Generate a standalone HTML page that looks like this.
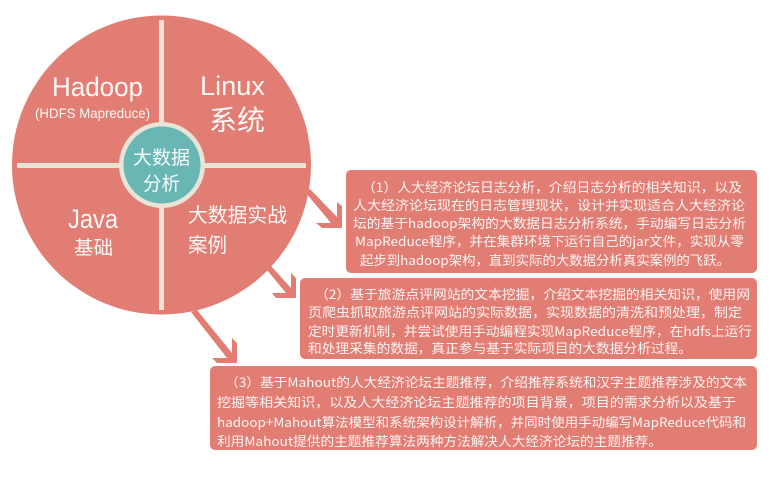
<!DOCTYPE html>
<html><head><meta charset="utf-8">
<style>
html,body{margin:0;padding:0;background:#fff;width:770px;height:500px;overflow:hidden}
svg{display:block}
text{fill:#fff;font-family:"Liberation Sans","Noto Sans CJK SC",sans-serif;opacity:.95}
.cjk{font-family:"WenQuanYi Zen Hei","Noto Sans CJK SC",sans-serif}
.t{font-size:13px;fill:#fff;opacity:.92;font-family:"WenQuanYi Zen Hei","Noto Sans CJK SC",sans-serif}
</style></head>
<body>
<svg width="770" height="500" viewBox="0 0 770 500" xmlns="http://www.w3.org/2000/svg">
<rect width="770" height="500" fill="#fff"/>
<g fill="#e27d73">
<polygon points="310,189 337,217 337,202 342,206 342,228 322,228 316,223 331,223 306,193"/>
<polygon points="271,266 291,288 291,273 296,278 296,298 276,298 272,293 286,293 267,270"/>
<polygon points="197,310 232,353 232,338 237,343 237,363 217,363 212,358 227,358 191,312"/>
<circle cx="161.500" cy="165" r="149.500"/>
<rect x="346" y="170" width="411" height="103" rx="5"/>
<rect x="300" y="278" width="457" height="81" rx="5"/>
<rect x="210" y="366" width="547" height="84" rx="5"/>
</g>
<g fill="#e8e4d6">
<rect x="159" y="20" width="5" height="290"/>
<rect x="17" y="163" width="289" height="5"/>
<circle cx="162" cy="165" r="43"/>
</g>
<circle cx="162" cy="165" r="38.500" fill="#69b7b5"/>

<text x="52" y="96" font-size="27" textLength="91" lengthAdjust="spacingAndGlyphs">Hadoop</text>
<text x="35" y="118" font-size="14" textLength="115" lengthAdjust="spacingAndGlyphs">(HDFS Mapreduce)</text>
<text x="200" y="95" font-size="27" textLength="65" lengthAdjust="spacingAndGlyphs">Linux</text>
<text class="cjk" x="209" y="130" font-size="28" textLength="56" lengthAdjust="spacingAndGlyphs">系统</text>
<text class="cjk" x="133" y="164" font-size="19" textLength="57" lengthAdjust="spacingAndGlyphs">大数据</text>
<text class="cjk" x="143" y="190" font-size="19" textLength="37" lengthAdjust="spacingAndGlyphs">分析</text>
<text x="68" y="228" font-size="27" textLength="50" lengthAdjust="spacingAndGlyphs">Java</text>
<text class="cjk" x="74" y="254" font-size="19" textLength="39" lengthAdjust="spacingAndGlyphs">基础</text>
<text class="cjk" x="188" y="222" font-size="20" textLength="99" lengthAdjust="spacingAndGlyphs">大数据实战</text>
<text class="cjk" x="188" y="252" font-size="20" textLength="39" lengthAdjust="spacingAndGlyphs">案例</text>

<text class="t" x="362" y="192" textLength="380" lengthAdjust="spacingAndGlyphs">（1）人大经济论坛日志分析，介绍日志分析的相关知识，以及</text>
<text class="t" x="353" y="210" textLength="392" lengthAdjust="spacingAndGlyphs">人大经济论坛现在的日志管理现状，设计并实现适合人大经济论</text>
<text class="t" x="353" y="228" textLength="393" lengthAdjust="spacingAndGlyphs">坛的基于hadoop架构的大数据日志分析系统，手动编写日志分析</text>
<text class="t" x="355" y="246" textLength="389" lengthAdjust="spacingAndGlyphs">MapReduce程序，并在集群环境下运行自己的jar文件，实现从零</text>
<text class="t" x="360" y="265" textLength="370" lengthAdjust="spacingAndGlyphs">起步到hadoop架构，直到实际的大数据分析真实案例的飞跃。</text>

<text class="t" x="315" y="299" textLength="435" lengthAdjust="spacingAndGlyphs">（2）基于旅游点评网站的文本挖掘，介绍文本挖掘的相关知识，使用网</text>
<text class="t" x="308" y="317" textLength="434" lengthAdjust="spacingAndGlyphs">页爬虫抓取旅游点评网站的实际数据，实现数据的清洗和预处理，制定</text>
<text class="t" x="308" y="336" textLength="444" lengthAdjust="spacingAndGlyphs">定时更新机制，并尝试使用手动编程实现MapReduce程序，在hdfs上运行</text>
<text class="t" x="308" y="353" textLength="384" lengthAdjust="spacingAndGlyphs">和处理采集的数据，真正参与基于实际项目的大数据分析过程。</text>

<text class="t" x="225" y="387" textLength="522" lengthAdjust="spacingAndGlyphs">（3）基于Mahout的人大经济论坛主题推荐，介绍推荐系统和汉字主题推荐涉及的文本</text>
<text class="t" x="217" y="407" textLength="519" lengthAdjust="spacingAndGlyphs">挖掘等相关知识，以及人大经济论坛主题推荐的项目背景，项目的需求分析以及基于</text>
<text class="t" x="217" y="427" textLength="529" lengthAdjust="spacingAndGlyphs">hadoop+Mahout算法模型和系统架构设计解析，并同时使用手动编写MapReduce代码和</text>
<text class="t" x="217" y="446" textLength="445" lengthAdjust="spacingAndGlyphs">利用Mahout提供的主题推荐算法两种方法解决人大经济论坛的主题推荐。</text>
</svg>
</body></html>
